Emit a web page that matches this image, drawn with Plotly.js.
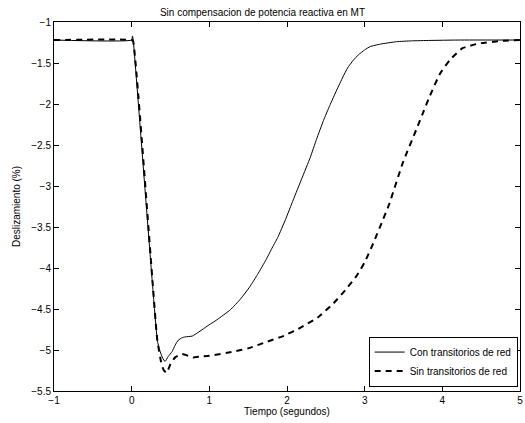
<!DOCTYPE html>
<html>
<head>
<meta charset="utf-8">
<script src="https://cdn.plot.ly/plotly-3.0.1.min.js"></script>
<style>html,body{margin:0;padding:0;background:#fff;}#chart{width:525px;height:423px;}</style>
</head>
<body>
<div id="chart"></div>
<script>
const chartTitle = "Sin compensacion de potencia reactiva en MT";
const xTitle = "Tiempo (segundos)";
const yTitle = "Deslizamiento (%)";
const seriesNames = ["Con transitorios de red", "Sin transitorios de red"];

const tCon = [-1, 0, 0.01, 0.02, 0.33, 0.36, 0.40, 0.43, 0.47, 0.52, 0.56, 0.60, 0.65, 0.69, 0.78, 0.88, 0.97, 1.1, 1.27, 1.4, 1.52, 1.62, 1.73, 1.80, 1.88, 1.98, 2.08, 2.19, 2.30, 2.38, 2.47, 2.55, 2.64, 2.72, 2.78, 2.85, 2.92, 3.0, 3.07, 3.2, 3.41, 3.6, 3.84, 4.2, 5];
const yCon = [-1.22, -1.22, -1.17, -1.22, -4.88, -5.0, -5.10, -5.14, -5.08, -5.02, -4.94, -4.88, -4.85, -4.84, -4.83, -4.77, -4.71, -4.63, -4.51, -4.38, -4.23, -4.08, -3.90, -3.77, -3.63, -3.41, -3.17, -2.91, -2.65, -2.43, -2.20, -2.02, -1.83, -1.67, -1.56, -1.47, -1.40, -1.34, -1.30, -1.27, -1.24, -1.23, -1.225, -1.22, -1.22];

const tSin = [-1, 0, 0.02, 0.33, 0.38, 0.41, 0.45, 0.50, 0.56, 0.65, 0.79, 0.88, 1.0, 1.31, 1.5, 1.74, 1.95, 2.17, 2.4, 2.6, 2.75, 2.90, 3.0, 3.11, 3.21, 3.32, 3.49, 3.67, 3.75, 3.84, 3.97, 4.10, 4.26, 4.48, 4.78, 5];
const ySin = [-1.22, -1.22, -1.24, -4.88, -5.15, -5.24, -5.28, -5.17, -5.09, -5.05, -5.09, -5.08, -5.07, -5.02, -4.98, -4.90, -4.83, -4.73, -4.60, -4.43, -4.27, -4.09, -3.93, -3.70, -3.47, -3.21, -2.72, -2.30, -2.11, -1.90, -1.63, -1.46, -1.32, -1.26, -1.23, -1.22];

const xTicks = [-1, 0, 1, 2, 3, 4, 5];
const yTicks = [-1, -1.5, -2, -2.5, -3, -3.5, -4, -4.5, -5, -5.5];

const font = {family: "Liberation Sans, Arial, sans-serif", size: 10, color: "#000"};

const traces = [
  {x: tCon, y: yCon, name: seriesNames[0], mode: "lines", line: {color: "#000", width: 1, shape: "spline", smoothing: 0.4}},
  {x: tSin, y: ySin, name: seriesNames[1], mode: "lines", line: {color: "#000", width: 2, dash: "6px,5px", shape: "spline", smoothing: 0.4}}
];

const axisCommon = {
  showline: true, linecolor: "#000", linewidth: 1, mirror: "allticks",
  ticks: "inside", ticklen: 5, tickcolor: "#000", tickwidth: 1,
  showgrid: false, zeroline: false, tickfont: font
};

const layout = {
  width: 525, height: 423,
  margin: {l: 54, r: 5, t: 22, b: 32},
  paper_bgcolor: "#fff", plot_bgcolor: "#fff",
  font: font,
  showlegend: true,
  title: {text: chartTitle, font: font, x: 0.5, xanchor: "center", y: 1, yref: "paper", yanchor: "bottom", pad: {b: 6}},
  xaxis: Object.assign({}, axisCommon, {range: [-1, 5], tickvals: xTicks, ticktext: xTicks.map(v => v < 0 ? "\u2212" + Math.abs(v) : String(v)), title: {text: xTitle, font: font, standoff: 2}}),
  yaxis: Object.assign({}, axisCommon, {range: [-5.5, -1], tickvals: yTicks, ticktext: yTicks.map(v => "\u2212" + Math.abs(v)), title: {text: yTitle, font: font, standoff: 8}}),
  legend: {x: 0.995, y: 0.012, xanchor: "right", yanchor: "bottom", bgcolor: "#fff", bordercolor: "#000", borderwidth: 1, font: font, itemwidth: 30, tracegroupgap: 0}
};

Plotly.newPlot("chart", traces, layout, {displayModeBar: false, staticPlot: true});
</script>
</body>
</html>
